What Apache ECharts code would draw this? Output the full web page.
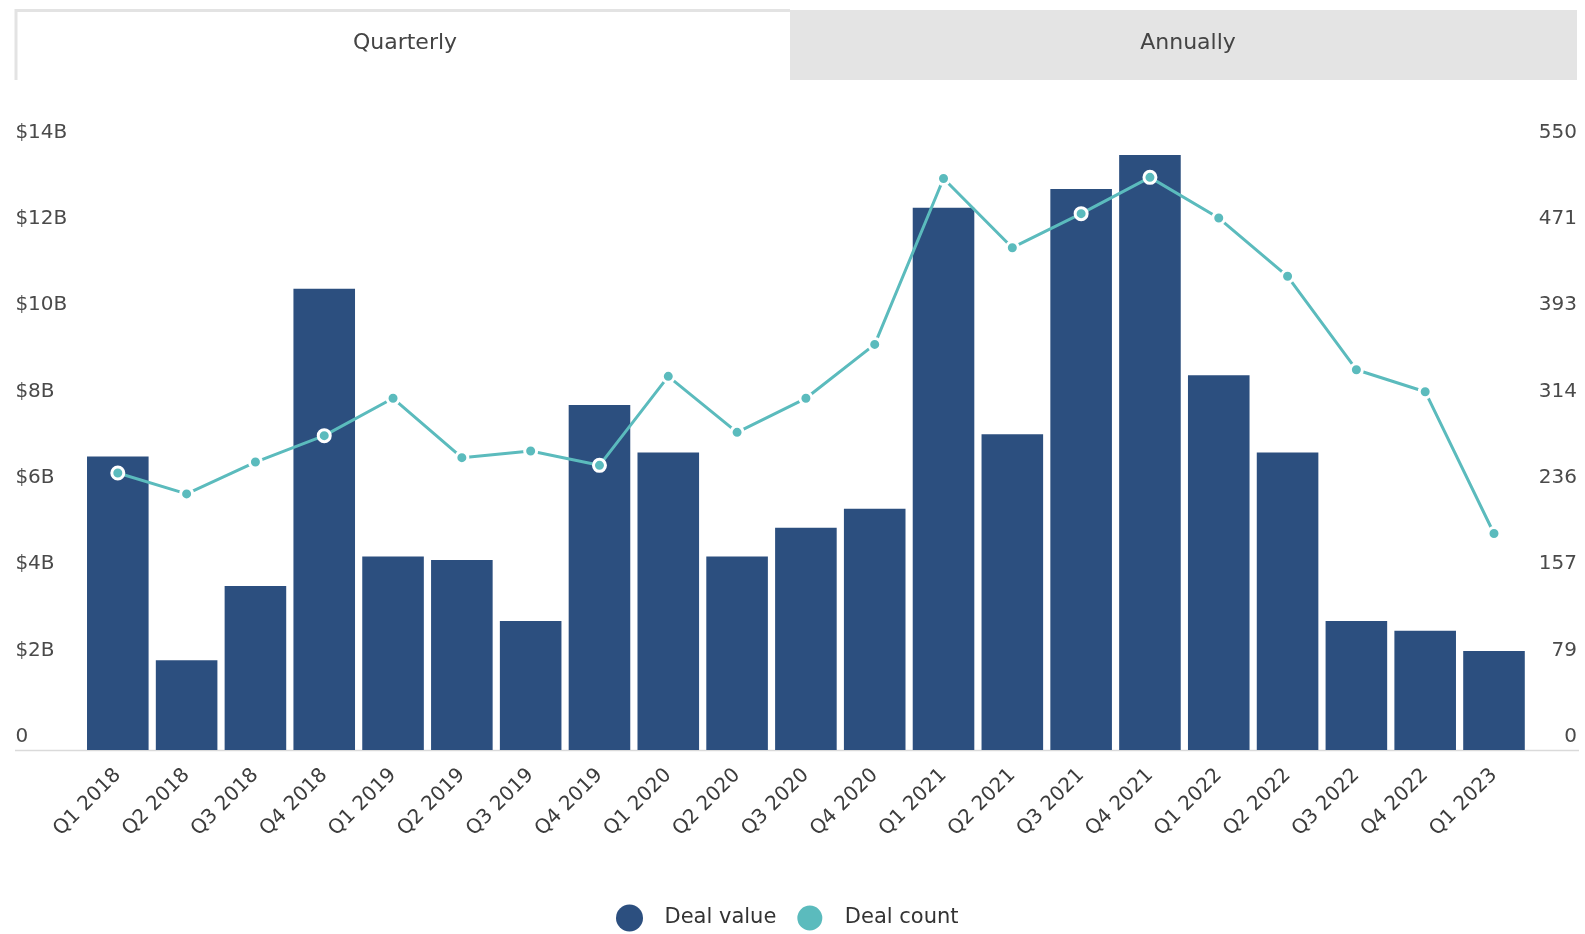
<!DOCTYPE html>
<html>
<head>
<meta charset="utf-8">
<script src="https://cdn.jsdelivr.net/npm/echarts@6/dist/echarts.min.js"></script>
<style>
  html, body { margin: 0; padding: 0; background: #ffffff; }
  #chart { width: 1585px; height: 934px; }
</style>
</head>
<body>
<div id="chart"></div>
<script>
// Quarterly deal activity
const quarters = [
  'Q1 2018', 'Q2 2018', 'Q3 2018', 'Q4 2018',
  'Q1 2019', 'Q2 2019', 'Q3 2019', 'Q4 2019',
  'Q1 2020', 'Q2 2020', 'Q3 2020', 'Q4 2020',
  'Q1 2021', 'Q2 2021', 'Q3 2021', 'Q4 2021',
  'Q1 2022', 'Q2 2022', 'Q3 2022', 'Q4 2022',
  'Q1 2023'
];
// Deal value, $ billions
const dealValue = [
  6.80, 2.08, 3.80, 10.68,
  4.48, 4.40, 2.99, 7.99,
  6.89, 4.48, 5.15, 5.59,
  12.56, 7.31, 12.99, 13.78,
  8.68, 6.89, 2.99, 2.76,
  2.29
];
// Number of deals
const dealCount = [
  252, 233, 262, 286,
  320, 266, 272, 259,
  340, 289, 320, 369,
  520, 457, 488, 521,
  484, 431, 346, 326,
  197
];
const tabLabels = ['Quarterly', 'Annually'];
const seriesNames = ['Deal value', 'Deal count'];
const valueAxisMax = 14;
const valueAxisStep = 2;
const countAxisMax = 550;
const countAxisSteps = 7;

const NAVY = '#2c4f7f';
const TEAL = '#5bbbbd';
const FONT = 'DejaVu Sans';

const chart = echarts.init(document.getElementById('chart'), null, { renderer: 'canvas' });

chart.setOption({
  animation: false,
  backgroundColor: '#ffffff',
  textStyle: { fontFamily: FONT },
  grid: {
    left: 83.4, right: 56.6, top: 145.5, bottom: 184,
    containLabel: false, outerBoundsMode: 'none'
  },
  graphic: [
    // tab strip
    {
      type: 'rect', z: 0,
      shape: { x: 790, y: 10, width: 787, height: 70 },
      style: { fill: '#e4e4e4' }
    },
    {
      type: 'polyline', z: 1,
      shape: { points: [[16, 80], [16, 10.5], [790, 10.5]] },
      style: { stroke: '#e3e3e3', lineWidth: 3, fill: null }
    },
    {
      type: 'text', z: 2,
      x: 405, y: 43,
      style: {
        text: tabLabels[0], fill: '#444444', font: '22px "' + FONT + '"',
        align: 'center', verticalAlign: 'middle'
      }
    },
    {
      type: 'text', z: 2,
      x: 1188, y: 43,
      style: {
        text: tabLabels[1], fill: '#444444', font: '22px "' + FONT + '"',
        align: 'center', verticalAlign: 'middle'
      }
    },
    // baseline running under both value scales
    {
      type: 'line', z: 0,
      shape: { x1: 15, y1: 750.5, x2: 1579, y2: 750.5 },
      style: { stroke: '#dadada', lineWidth: 1.5 }
    }
  ],
  legend: {
    data: seriesNames,
    left: 616, top: 903.5,
    padding: 0,
    icon: 'circle',
    itemWidth: 60, itemHeight: 27, itemGap: 19,
    textStyle: { fontSize: 21, color: '#333333', fontFamily: FONT },
    selectedMode: false
  },
  xAxis: {
    type: 'category',
    data: quarters,
    axisLine: { show: false },
    axisTick: { show: false },
    axisLabel: {
      rotate: 45, margin: 22, interval: 0,
      fontSize: 20, color: '#3c3c3c', fontFamily: FONT
    }
  },
  yAxis: [
    {
      type: 'value', min: 0, max: valueAxisMax, interval: valueAxisStep,
      axisLine: { show: false }, axisTick: { show: false },
      splitLine: { show: false },
      axisLabel: {
        align: 'left', margin: 68, verticalAlign: 'bottom', lineHeight: 26,
        fontSize: 20, color: '#4a4a4a', fontFamily: FONT,
        formatter: v => (v === 0 ? '0' : '$' + v + 'B')
      }
    },
    {
      type: 'value', min: 0, max: countAxisMax, interval: countAxisMax / countAxisSteps,
      axisLine: { show: false }, axisTick: { show: false },
      splitLine: { show: false },
      axisLabel: {
        align: 'right', margin: 48.6, verticalAlign: 'bottom', lineHeight: 26,
        fontSize: 20, color: '#4a4a4a', fontFamily: FONT,
        formatter: v => String(Math.round(v))
      }
    }
  ],
  series: [
    {
      name: seriesNames[0],
      type: 'bar',
      yAxisIndex: 0,
      data: dealValue,
      barCategoryGap: '10.5%',
      itemStyle: { color: NAVY },
      z: 2
    },
    {
      name: seriesNames[1],
      type: 'line',
      yAxisIndex: 1,
      data: dealCount,
      symbol: 'circle',
      symbolSize: 12,
      showAllSymbol: true,
      lineStyle: { color: TEAL, width: 3 },
      itemStyle: { color: TEAL, borderColor: '#ffffff', borderWidth: 3 },
      z: 3
    }
  ]
});
</script>
</body>
</html>
